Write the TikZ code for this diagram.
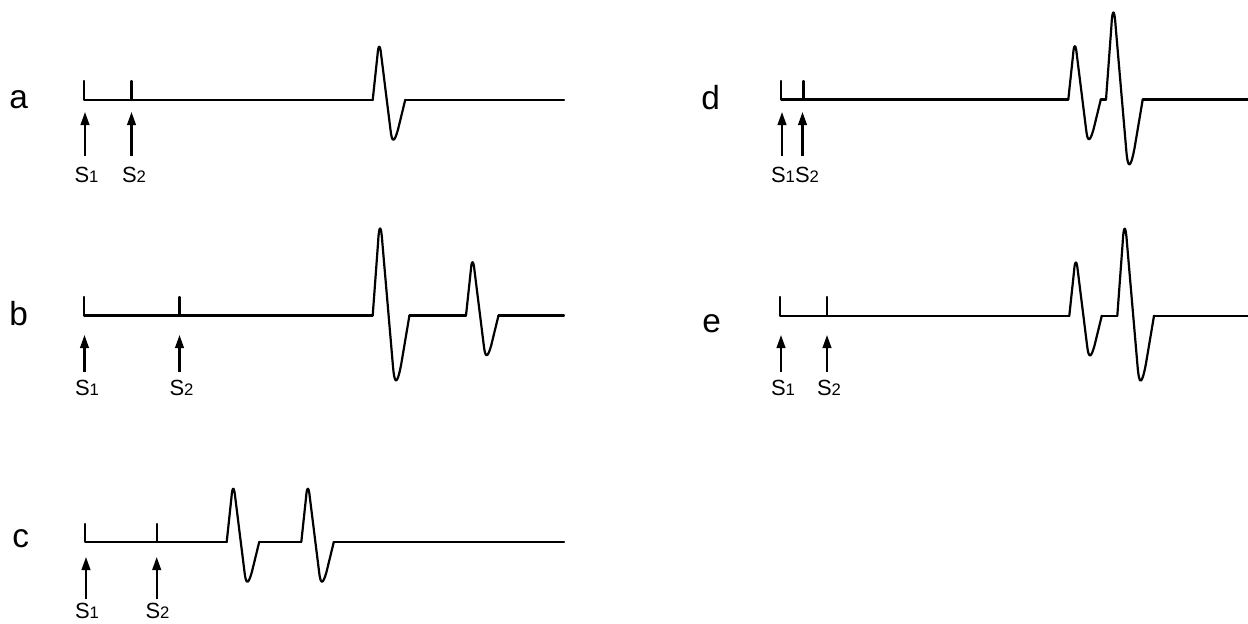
\documentclass[tikz,border=0pt]{standalone}
\usepackage{fontspec}
\setmainfont{Liberation Sans}
\usetikzlibrary{arrows.meta}
\newcommand\Sidx[1]{S{\fontsize{9.5}{10}\selectfont#1}}
\begin{document}
\begin{tikzpicture}[x=0.02cm,y=-0.02cm,
  trace/.style={line width=1.25pt, line cap=round, line join=round},
  arr/.style={line width=1.15pt, -{Triangle[length=7.5pt,width=5pt]}},
  panel/.style={anchor=base west, inner sep=0pt, font=\fontsize{19}{22}\selectfont},
  slab/.style={anchor=base, inner sep=0pt, font=\fontsize{12.5}{14}\selectfont},
  small/.style={yscale=-1},
  big/.style={xscale=1.13, yscale=-1.635},
  pulse/.pic={\draw[trace] (0,0) -- (4.8,45) .. controls (5.6,56) and (7.4,56) .. (8.49,45)
     -- (17.81,-30) .. controls (19.3,-43) and (21.5,-43) .. (25.18,-30) -- (32.5,0);}
]
\useasboundingbox (0,0) rectangle (1248,623);

% ---- panel a ----
\node[panel] (la) at (9,108) {a};
\draw[trace] (84,81) -- (84,100) -- (372.7,100);
\draw[trace] (131.5,81) -- (131.5,100);
\pic[small] at (372.7,100) {pulse};
\draw[trace] (405.2,100) -- (564,100);
\draw[arr] (85,156) -- (85,112);
\draw[arr] (131.5,156) -- (131.5,112);
\node[slab] (a1) at (86.5,182) {\Sidx{1}};
\node[slab] (a2) at (134,182) {\Sidx{2}};

% ---- panel b ----
\node[panel] (lb) at (9,325) {b};
\draw[trace] (84,297) -- (84,315.5) -- (372.7,315.5);
\draw[trace] (179.5,297) -- (179.5,315.5);
\pic[big] at (372.7,315.5) {pulse};
\draw[trace] (409.4,315.5) -- (466,315.5);
\pic[small] at (466,315.5) {pulse};
\draw[trace] (498.5,315.5) -- (564,315.5);
\draw[arr] (84.5,372) -- (84.5,335);
\draw[arr] (179.5,372) -- (179.5,335);
\node[slab] (b1) at (87,395) {\Sidx{1}};
\node[slab] (b2) at (181.5,395) {\Sidx{2}};

% ---- panel c ----
\node[panel] (lc) at (12,547) {c};
\draw[trace] (85,524) -- (85,542) -- (226.7,542);
\draw[trace] (156.7,524) -- (156.7,542);
\pic[small] at (226.7,542) {pulse};
\draw[trace] (259.2,542) -- (301.3,542);
\pic[small] at (301.3,542) {pulse};
\draw[trace] (333.8,542) -- (564,542);
\draw[arr] (86,599) -- (86,557);
\draw[arr] (156.7,599) -- (156.7,557);
\node[slab] (c1) at (87,618) {\Sidx{1}};
\node[slab] (c2) at (157.5,618) {\Sidx{2}};

% ---- panel d ----
\node[panel] (ld) at (701,109) {d};
\draw[trace] (780.7,81) -- (780.7,99.5) -- (1068.3,99.5);
\draw[trace] (803.5,81) -- (803.5,99.5);
\pic[small] at (1068.3,99.5) {pulse};
\draw[trace] (1100.8,99.5) -- (1106,99.5);
\pic[big] at (1106,99.5) {pulse};
\draw[trace] (1142.7,99.5) -- (1250,99.5);
\draw[arr] (782,156) -- (782,112);
\draw[arr] (802.5,156) -- (802.5,112);
\node[slab] (d12) at (795,182) {\Sidx{1}\Sidx{2}};

% ---- panel e ----
\node[panel] (le) at (702,332) {e};
\draw[trace] (780,297) -- (780,315.7) -- (1069.3,315.7);
\draw[trace] (827,297) -- (827,315.7);
\pic[small] at (1069.3,315.7) {pulse};
\draw[trace] (1101.8,315.7) -- (1117.3,315.7);
\pic[big] at (1117.3,315.7) {pulse};
\draw[trace] (1154,315.7) -- (1250,315.7);
\draw[arr] (781,372) -- (781,335);
\draw[arr] (827,372) -- (827,335);
\node[slab] (e1) at (783,395) {\Sidx{1}};
\node[slab] (e2) at (829,395) {\Sidx{2}};
\end{tikzpicture}
\end{document}
